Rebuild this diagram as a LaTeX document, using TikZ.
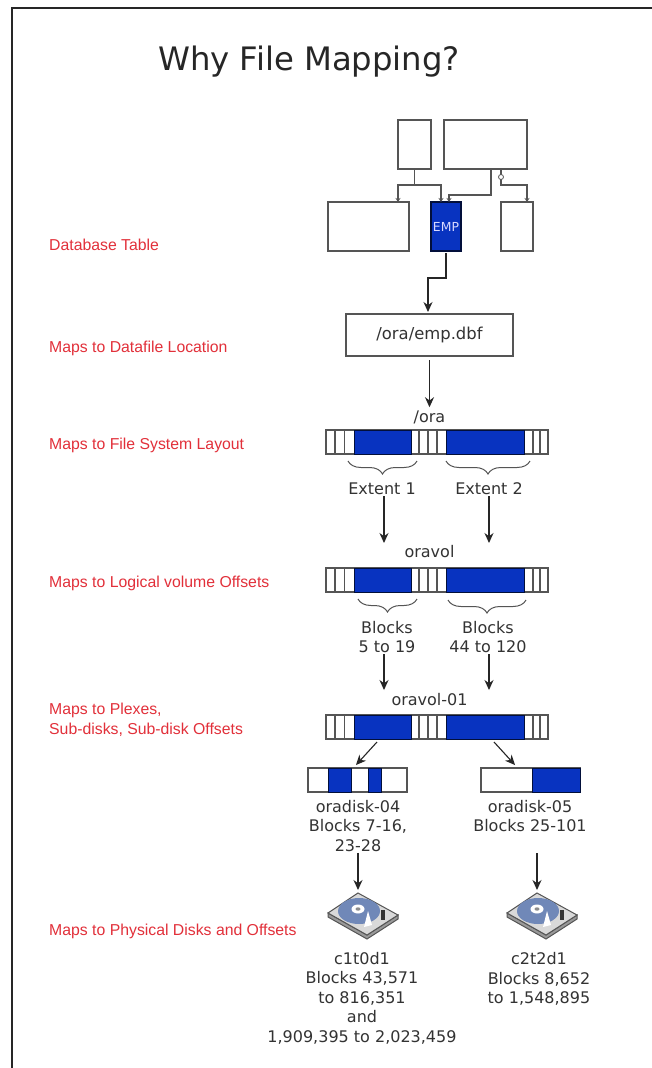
\documentclass[tikz,border=0pt]{standalone}
\usepackage{fontspec}
\setmainfont{DejaVu Sans}
\newfontfamily\redfont{Liberation Sans}
\usetikzlibrary{arrows.meta,positioning,calc,decorations.pathreplacing}
\definecolor{acc}{HTML}{0833C0}
\definecolor{gr}{HTML}{555555}
\definecolor{tx}{HTML}{333333}
\definecolor{rd}{HTML}{E2303A}
\definecolor{plat}{HTML}{7088B8}
\tikzset{
  tabbox/.style={draw=gr,line width=1.1pt,fill=white,inner sep=0pt,outer sep=0pt,anchor=north west},
  barbox/.style={tabbox,minimum width=222pt,minimum height=24pt},
  subbox/.style={tabbox,minimum width=99pt,minimum height=24pt},
  lbl/.style={text=tx,align=center,inner sep=1pt,font=\fontsize{16}{19.5}\selectfont},
  redlbl/.style={text=rd,align=left,anchor=west,inner sep=0pt,font=\redfont\fontsize{15.8}{20}\selectfont},
  flow/.style={-{Stealth[length=10pt,width=9pt]},line width=1.1pt,draw=black!85},
  erlink/.style={line width=1.3pt,draw=gr},
  ertip/.style={erlink,-{Stealth[length=4pt,width=5pt]}},
  bluebit/.style={fill=acc,draw=black!70!acc,line width=1pt},
  tick/.style={draw=gr,line width=1.1pt},
  brc/.style={draw=gr,line width=1pt,decorate,decoration={brace,amplitude=13pt}}
}
\begin{document}
\begin{tikzpicture}[x=1pt,y=-1pt]
  \useasboundingbox (0,0) rectangle (652,1068);
  \fill[white] (0,0) rectangle (652,1068);
  \draw[line width=2pt,black!85] (652,8) -- (12,8) -- (12,1068);
  \node[text=black!85,anchor=base west,inner sep=0pt,font=\fontsize{32.3}{36}\selectfont] (title) at (158,70) {Why File Mapping?};
  % left column
  \foreach \n/\y/\t in {rdb/245/{Database Table},rdf/348/{Maps to Datafile Location},rfs/445/{Maps to File System Layout},rlv/583/{Maps to Logical volume Offsets},rpl/720/{Maps to Plexes,\\Sub-disks, Sub-disk Offsets},rpd/931/{Maps to Physical Disks and Offsets}} {
    \node[redlbl] (\n) at (49,\y) {\t};
  }
  % schema
  \node[tabbox,minimum width=33pt,minimum height=49pt] (tabA) at (398,120) {};
  \node[tabbox,minimum width=83pt,minimum height=49pt] (tabB) at (444,120) {};
  \node[tabbox,minimum width=81pt,minimum height=49pt] (tabC) at (328,202) {};
  \node[tabbox,minimum width=30pt,minimum height=49pt,fill=acc,draw=black!70!acc,text=blue!15,font=\fontsize{12.4}{14}\selectfont] (emp) at (431,202) {EMP};
  \node[tabbox,minimum width=32pt,minimum height=49pt] (tabD) at (501,202) {};
  \coordinate (joina) at (414.5,185);
  \draw[erlink] (tabA.south) -- (joina);
  \draw[ertip] (joina) -| ([xshift=-11pt]tabC.north east);
  \draw[ertip] (joina) -| ([xshift=10pt]emp.north west);
  \draw[ertip] ([xshift=47pt]tabB.south west) -- ++(0,26) -| ([xshift=18pt]emp.north west);
  \draw[ertip] ([xshift=57pt]tabB.south west) -- ++(0,16) -| ([xshift=26pt]tabD.north west);
  \node[draw=gr,line width=0.8pt,fill=white,circle,inner sep=0pt,minimum size=5pt] (ringa) at (501,177) {};
  % datafile
  \node[tabbox,minimum width=167pt,minimum height=42pt,font=\fontsize{16.4}{18}\selectfont,text=tx] (fileb) at (346,314) {/ora/emp.dbf};
  \draw[flow] ([yshift=-2pt]emp.south) -- ++(0,25) -| ([xshift=82pt,yshift=2pt]fileb.north west);
  % the three long bars
  \foreach \n/\y in {stripa/430,stripb/568,stripc/715} {
    \node[barbox] (\n) at (326,\y) {};
    \foreach \x in {335,344.5,419,428,437,533,540} {
      \draw[tick] (\x,\y) -- (\x,\y+24);
    }
    \filldraw[bluebit] (354,\y) rectangle (411,\y+24);
    \filldraw[bluebit] (446,\y) rectangle (524,\y+24);
  }
  \node[lbl] (oralbl) at (429.5,417) {/ora};
  \node[lbl] (volbl) at (429.5,552) {oravol};
  \node[lbl] (plexlbl) at (429.5,700) {oravol-01};
  \draw[flow] ([yshift=-4pt]fileb.south) -- ([yshift=2pt]oralbl.north);
  % braces
  \draw[brc] (417,461) -- (348,461);
  \draw[brc] (530,461) -- (446,461);
  \draw[brc] (417,599) -- (358,599);
  \draw[brc] (526,600) -- (448,600);
  \node[lbl] (exta) at (382,489) {Extent 1};
  \node[lbl] (extb) at (489,489) {Extent 2};
  \node[lbl] (blka) at (387,637) {Blocks\\5 to 19};
  \node[lbl] (blkb) at (488,637) {Blocks\\44 to 120};
  \coordinate (enda) at (384,543);
  \coordinate (endb) at (489,543);
  \coordinate (endc) at (384,690);
  \coordinate (endd) at (489,690);
  \draw[flow] (exta.south -| enda) -- (enda);
  \draw[flow] (extb.south -| endb) -- (endb);
  \draw[flow] (blka.south -| endc) -- (endc);
  \draw[flow] (blkb.south -| endd) -- (endd);
  % sub-disks
  \node[subbox] (sda) at (308,768) {};
  \node[subbox] (sdb) at (481,768) {};
  \filldraw[bluebit] (328,768) rectangle (351,792);
  \filldraw[bluebit] (368,768) rectangle (381,792);
  \filldraw[bluebit] (532,768) rectangle (580,792);
  \draw[flow] ([xshift=51pt,yshift=-3pt]stripc.south west) -- ([xshift=48pt,yshift=3pt]sda.north west);
  \draw[flow] ([xshift=168pt,yshift=-3pt]stripc.south west) -- ([xshift=34pt,yshift=3pt]sdb.north west);
  \node[lbl] (oda) at (358,826) {oradisk-04\\Blocks 7-16,\\23-28};
  \node[lbl] (odb) at (530,816) {oradisk-05\\Blocks 25-101};
  \coordinate (diska) at (358,890);
  \coordinate (diskb) at (537,890);
  \draw[flow] (oda.south) -- (diska);
  \draw[flow] ([xshift=7pt,yshift=-20pt]odb.south) -- (diskb);
  % disks
  \foreach \x in {358,537} {
    \begin{scope}[shift={(\x,915)}]
      \filldraw[fill=black!40,draw=gr,line width=1pt] (-30,-2) -- (9,20) -- (40,0) -- (40,4) -- (9,24) -- (-30,2) -- cycle;
      \filldraw[fill=black!15,draw=gr,line width=1pt] (0,-22) -- (40,0) -- (9,20) -- (-30,-2) -- cycle;
      \fill[plat] (1,-4) ellipse (21 and 13);
      \fill[white] (0,-6) ellipse (6.5 and 4.5);
      \fill[black!45] (0,-6) ellipse (2.5 and 1.7);
      \fill[white] (10,-4) -- (14,10) -- (6,12) -- cycle;
      \fill[black!80] (23,-5) rectangle (27,5);
    \end{scope}
  }
  \node[lbl] (pda) at (362,998) {c1t0d1\\Blocks 43,571\\to 816,351\\and\\1,909,395 to 2,023,459};
  \node[lbl] (pdb) at (539,979) {c2t2d1\\Blocks 8,652\\to 1,548,895};
\end{tikzpicture}
\end{document}
